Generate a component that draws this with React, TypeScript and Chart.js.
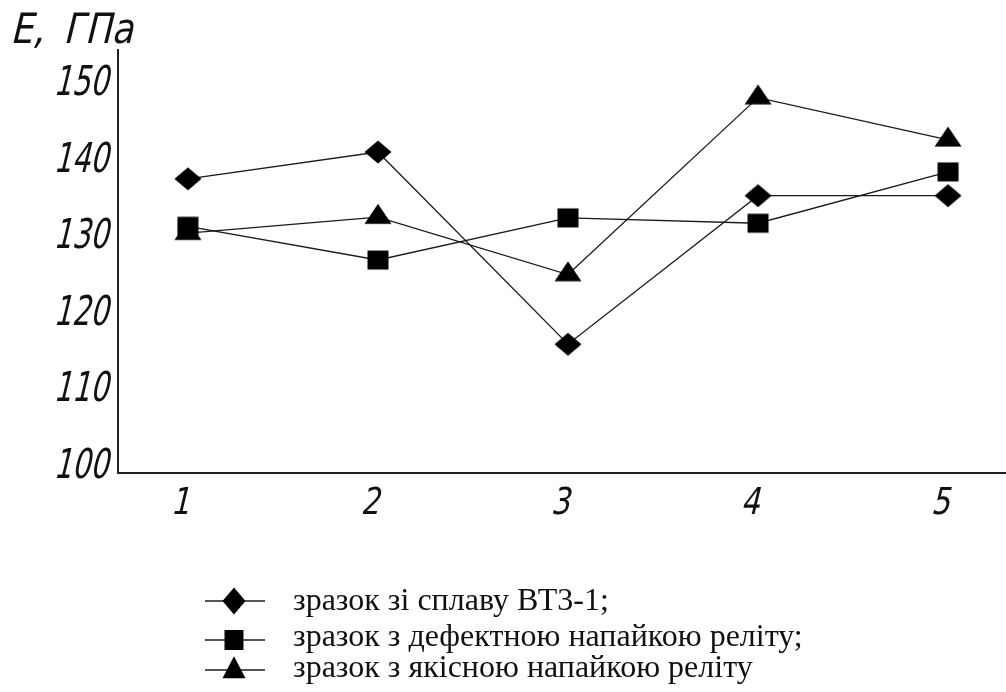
import React, { useEffect, useRef } from 'react';
import { Chart, registerables } from 'chart.js';

Chart.register(...registerables);

// ---- data ----
const xValues = [1, 2, 3, 4, 5];
const xTickLabels = ['1', '2', '3', '4', '5'];
const yTickValues = [100, 110, 120, 130, 140, 150];
const seriesLabels = [
  'зразок зі сплаву ВТ3-1;',
  'зразок з дефектною напайкою реліту;',
  'зразок з якісною напайкою реліту',
];
const alloyValues = [137.1, 140.6, 115.5, 134.9, 134.9];
const defectiveValues = [130.9, 126.5, 132.0, 131.3, 138.0];
const qualityValues = [130.0, 132.1, 124.6, 147.7, 142.2];
const yAxisTitleSymbol = 'E,';
const yAxisTitleUnit = 'ГПа';

type Kind = 'diamond' | 'square' | 'triangle';
const markerKinds: Kind[] = ['diamond', 'square', 'triangle'];

function pathMarker(g: CanvasRenderingContext2D, kind: Kind, cx: number, cy: number, w: number, h: number) {
  g.beginPath();
  if (kind === 'diamond') {
    g.moveTo(cx - w / 2, cy);
    g.lineTo(cx, cy - h / 2);
    g.lineTo(cx + w / 2, cy);
    g.lineTo(cx, cy + h / 2);
  } else if (kind === 'square') {
    g.rect(cx - w / 2, cy - h / 2, w, h);
  } else {
    g.moveTo(cx, cy - (2 * h) / 3);
    g.lineTo(cx + w / 2, cy + h / 3);
    g.lineTo(cx - w / 2, cy + h / 3);
  }
  g.closePath();
  g.fill();
}

function markerCanvas(kind: Kind, w: number, h: number) {
  const size = 34;
  const c = document.createElement('canvas');
  c.width = size;
  c.height = size;
  const g = c.getContext('2d') as CanvasRenderingContext2D;
  g.fillStyle = '#000';
  pathMarker(g, kind, size / 2, size / 2, w, h);
  return c;
}

function drawSlanted(
  ctx: CanvasRenderingContext2D,
  text: string,
  x: number,
  baseline: number,
  size: number,
  scaleX: number | null,
  align: CanvasTextAlign,
  fitWidth?: number
) {
  ctx.save();
  ctx.font = `${size}px "DejaVu Sans"`;
  ctx.textAlign = align;
  ctx.textBaseline = 'alphabetic';
  let sx = scaleX ?? 1;
  if (fitWidth) sx = fitWidth / ctx.measureText(text).width;
  ctx.translate(x, baseline);
  ctx.transform(sx, 0, -0.24, 1, 0, 0);
  ctx.fillText(text, 0, 0);
  ctx.restore();
}

const textPlugin = {
  id: 'handText',
  afterDraw(chart: any) {
    const ctx: CanvasRenderingContext2D = chart.ctx;
    const xs = chart.scales.x;
    const ys = chart.scales.y;
    ctx.save();
    ctx.fillStyle = '#111';
    yTickValues.forEach((v) => {
      drawSlanted(ctx, String(v), 108, ys.getPixelForValue(v) + 15, 41, 0.7, 'right');
    });
    xValues.forEach((v, i) => {
      drawSlanted(ctx, xTickLabels[i], xs.getPixelForValue(v) - 8, 514, 37, 0.8, 'center');
    });
    drawSlanted(ctx, yAxisTitleSymbol, 10, 43, 42, 0.85, 'left');
    drawSlanted(ctx, yAxisTitleUnit, 63, 43, 42, null, 'left', 70);

    // legend
    const lineY = [601, 640, 670];
    const markerY = [601, 640, 671];
    const markerSize = [
      [23, 27],
      [19, 20],
      [23, 22],
    ];
    const textBase = [610, 646, 677];
    seriesLabels.forEach((label, i) => {
      ctx.strokeStyle = '#555';
      ctx.lineWidth = 2;
      ctx.beginPath();
      ctx.moveTo(205, lineY[i]);
      ctx.lineTo(265, lineY[i]);
      ctx.stroke();
      ctx.fillStyle = '#000';
      pathMarker(ctx, markerKinds[i], 234, markerY[i], markerSize[i][0], markerSize[i][1]);
      ctx.fillStyle = '#111';
      ctx.font = '32px "Liberation Serif"';
      ctx.textAlign = 'left';
      ctx.textBaseline = 'alphabetic';
      ctx.fillText(label, 293, textBase[i]);
    });
    ctx.restore();
  },
};

export default function App() {
  const ref = useRef<HTMLCanvasElement | null>(null);

  useEffect(() => {
    const canvas = ref.current;
    if (!canvas) return;
    const chartMarkers = [
      markerCanvas('diamond', 27, 23),
      markerCanvas('square', 21, 19),
      markerCanvas('triangle', 27, 20),
    ];
    const seriesValues = [alloyValues, defectiveValues, qualityValues];
    const chart = new Chart(canvas, {
      type: 'line',
      data: {
        datasets: seriesValues.map((vals, i) => ({
          label: seriesLabels[i],
          data: xValues.map((x, j) => ({ x, y: vals[j] })),
          borderColor: '#1a1a1a',
          borderWidth: 1.3,
          pointStyle: chartMarkers[i] as any,
          pointRadius: 12,
          tension: 0,
          fill: false,
          clip: false as any,
        })),
      },
      options: {
        animation: false,
        responsive: false,
        events: [],
        layout: { autoPadding: false, padding: { left: 118, top: 50, right: 0, bottom: 219 } },
        plugins: {
          legend: { display: false },
          tooltip: { enabled: false },
          title: { display: false },
        },
        scales: {
          x: {
            type: 'linear',
            min: 0.632,
            max: 5.305,
            grid: { display: false, drawTicks: false },
            border: { display: true, color: '#222', width: 2 },
            ticks: { display: false },
          },
          y: {
            type: 'linear',
            min: 98.69,
            max: 153.92,
            grid: { display: false, drawTicks: false },
            border: { display: true, color: '#222', width: 2 },
            ticks: { display: false },
          },
        },
      },
      plugins: [textPlugin],
    });
    return () => chart.destroy();
  }, []);

  return (
    <div style={{ position: 'absolute', left: 0, top: 0, width: 1006, height: 692, background: '#fff' }}>
      <canvas ref={ref} width={1006} height={692} style={{ display: 'block', width: 1006, height: 692 }} />
    </div>
  );
}
